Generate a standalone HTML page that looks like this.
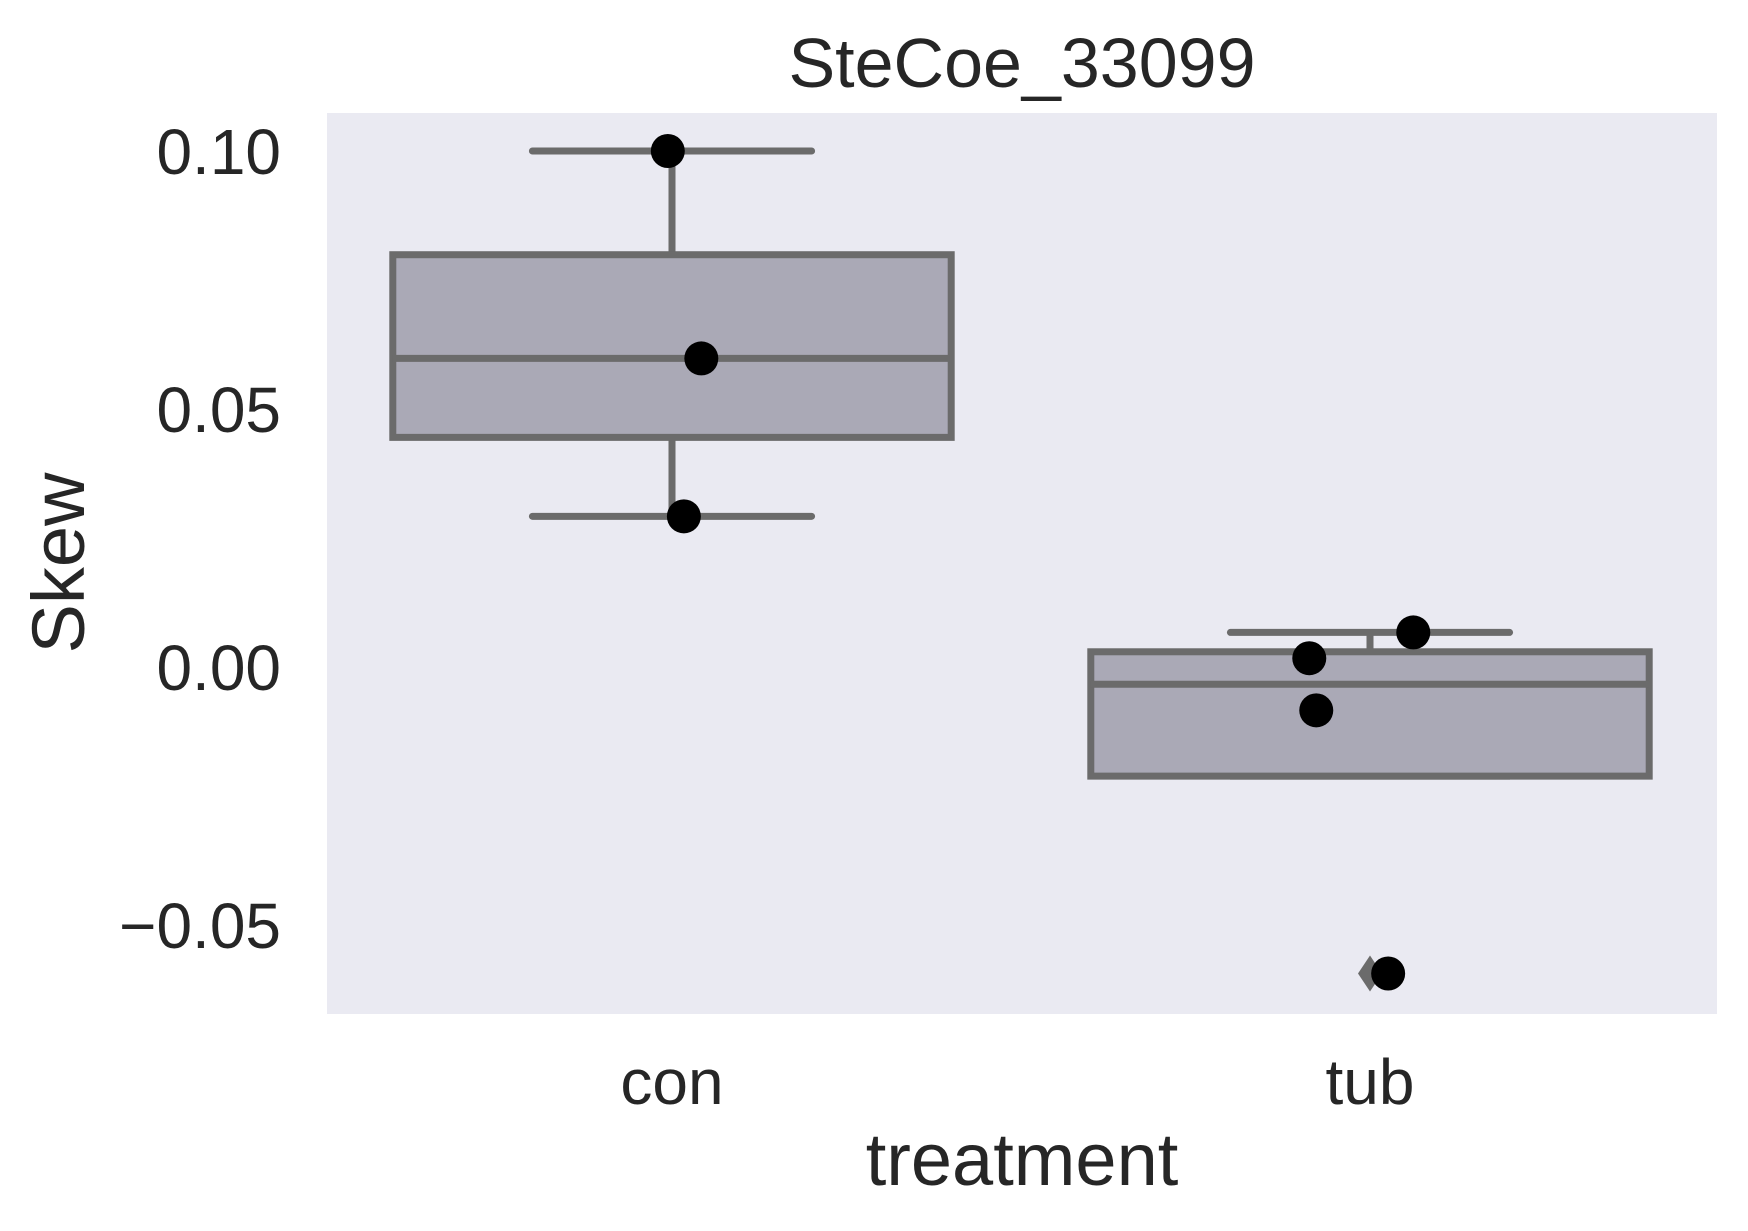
<!DOCTYPE html>
<html><head><meta charset="utf-8"><style>
html,body{margin:0;padding:0;background:#fff}
svg{display:block}
text{font-family:"Liberation Sans",Arial,sans-serif;fill:#262626}
</style></head><body>
<svg id="chart" width="1748" height="1231" viewBox="0 0 1748 1231">
<rect x="327" y="113" width="1390" height="901" fill="#eaeaf2"/>
<text x="1022" y="87" font-size="70" text-anchor="middle">SteCoe_33099</text>
<g id="yticks"></g>
<g id="xticks"></g>
<g id="boxes"></g>
<g id="points"></g>
<text x="0" y="0" font-size="74" text-anchor="middle" transform="translate(84,563) rotate(-90)">Skew</text>
<text x="1022" y="1185" font-size="74" text-anchor="middle">treatment</text>
</svg>
<script>
const categories = ["con", "tub"];
const conValues = [0.1, 0.0598, 0.0292];
const tubValues = [0.0067, 0.0017, -0.0084, -0.0594];
const conJitter = [-0.006, 0.042, 0.017];
const tubJitter = [0.062, -0.087, -0.077, 0.026];
const yTicks = [0.10, 0.05, 0.00, -0.05];
const yTickLabels = ["0.10", "0.05", "0.00", "\u22120.05"];

const NS = "http://www.w3.org/2000/svg";
const y = v => 667 - (v / 0.05) * 258;
const x = i => 672 + i * 698;
const bandW = 698;
function mk(tag, attrs, parent) {
  const e = document.createElementNS(NS, tag);
  for (const k in attrs) e.setAttribute(k, attrs[k]);
  parent.appendChild(e);
  return e;
}
function q(s, p) { const idx = p * (s.length - 1); const lo = Math.floor(idx), hi = Math.ceil(idx); return s[lo] + (s[hi] - s[lo]) * (idx - lo); }

const yg = document.getElementById('yticks');
yTicks.forEach((t, i) => {
  const el = mk('text', { x: 281, y: y(t) + 23, 'font-size': 64, 'text-anchor': 'end' }, yg);
  el.textContent = yTickLabels[i];
  
  
});
const xg = document.getElementById('xticks');
categories.forEach((c, i) => {
  const el = mk('text', { x: x(i), y: 1104, 'font-size': 64, 'text-anchor': 'middle' }, xg);
  el.textContent = c;
  
  
});

const series = [conValues, tubValues];
const jitters = [conJitter, tubJitter];
const bg = document.getElementById('boxes');
const pg = document.getElementById('points');
const stroke = '#6b6b6b', sw = 7;
series.forEach((vals, i) => {
  const s = vals.slice().sort((a, b) => a - b);
  const q1 = q(s, 0.25), med = q(s, 0.5), q3 = q(s, 0.75), iqr = q3 - q1;
  const inR = s.filter(v => v >= q1 - 1.5 * iqr && v <= q3 + 1.5 * iqr);
  const lo = Math.min(Math.min(...inR), q1), hi = Math.max(Math.max(...inR), q3);
  const cx = x(i), half = bandW * 0.4, capH = bandW * 0.2;
  const g = mk('g', {}, bg);
  
  
  mk('line', { x1: cx, x2: cx, y1: y(q3), y2: y(hi), stroke, 'stroke-width': sw }, g);
  mk('line', { x1: cx, x2: cx, y1: y(q1), y2: y(lo), stroke, 'stroke-width': sw }, g);
  mk('line', { x1: cx - capH, x2: cx + capH, y1: y(hi), y2: y(hi), stroke, 'stroke-width': sw, 'stroke-linecap': 'round' }, g);
  mk('line', { x1: cx - capH, x2: cx + capH, y1: y(lo), y2: y(lo), stroke, 'stroke-width': sw, 'stroke-linecap': 'round' }, g);
  mk('rect', { x: cx - half, y: y(q3), width: 2 * half, height: y(q1) - y(q3), fill: '#aaa9b6', stroke, 'stroke-width': sw }, g);
  mk('line', { x1: cx - half, x2: cx + half, y1: y(med), y2: y(med), stroke, 'stroke-width': sw }, g);
  s.filter(v => v < q1 - 1.5 * iqr || v > q3 + 1.5 * iqr).forEach(v => {
    const d = mk('path', { d: `M${cx - 12},${y(v)} L${cx},${y(v) - 18} L${cx + 12},${y(v)} L${cx},${y(v) + 18}Z`, fill: stroke }, g);
    
    
  });
  vals.forEach((v, j) => {
    const c = mk('circle', { cx: cx + jitters[i][j] * bandW, cy: y(v), r: 17, fill: '#000' }, pg);
    
    
  });
});
</script>
</body></html>
